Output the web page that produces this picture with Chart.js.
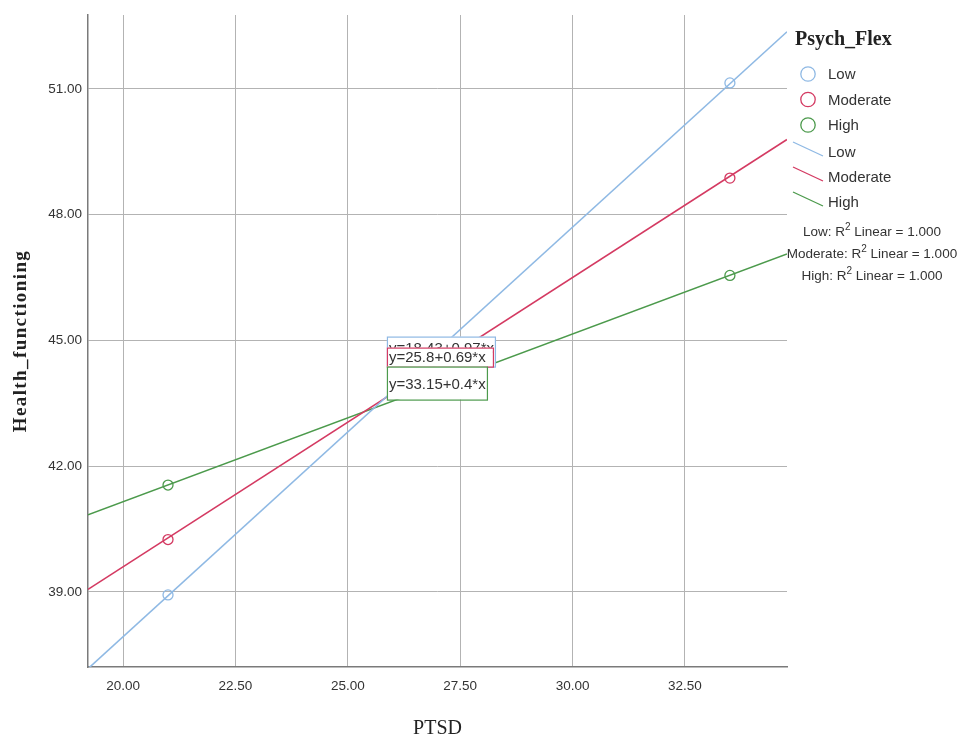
<!DOCTYPE html>
<html>
<head>
<meta charset="utf-8">
<script src="https://cdn.jsdelivr.net/npm/chart.js@4.4.1/dist/chart.umd.min.js"></script>
<style>
  html, body { margin: 0; padding: 0; background: #fff; }
  #wrap { width: 960px; height: 740px; }
</style>
</head>
<body>
<div id="wrap"><canvas id="chart"></canvas></div>
<script>
// Psych_Flex groups
const groups = ['Low', 'Moderate', 'High'];
const colors = ['#8fb9e4', '#d43a62', '#4c9a4c'];

// PTSD values of the plotted points
const ptsdPoints = [21.0, 33.5];

// Health_functioning at those points
const lowPoints = [38.93, 51.14];
const moderatePoints = [40.25, 48.87];
const highPoints = [41.55, 46.55];

// fit lines, read at the left and right edge of the plot
const lineX = [19.22, 34.77];
const lowLine = [37.17, 52.36];
const moderateLine = [39.06, 49.79];
const highLine = [40.84, 47.06];

const equations = ['y=18.43+0.97*x', 'y=25.8+0.69*x', 'y=33.15+0.4*x'];
const r2Names = ['Low', 'Moderate', 'High'];

const xTicks = [20, 22.5, 25, 27.5, 30, 32.5];
const yTicks = [39, 42, 45, 48, 51];

const sans = '"Liberation Sans", Arial, sans-serif';
const serif = '"Liberation Serif", "Times New Roman", serif';

const pointSets = [lowPoints, moderatePoints, highPoints];
const lineSets = [lowLine, moderateLine, highLine];

const datasets = [];
lineSets.forEach((vals, i) => {
  datasets.push({
    label: groups[i] + ' fit',
    data: lineX.map((x, j) => ({ x: x, y: vals[j] })),
    showLine: true,
    borderColor: colors[i],
    borderWidth: 1.6,
    pointRadius: 0,
    order: 2
  });
});
pointSets.forEach((vals, i) => {
  datasets.push({
    label: groups[i],
    data: ptsdPoints.map((x, j) => ({ x: x, y: vals[j] })),
    showLine: false,
    borderColor: colors[i],
    backgroundColor: 'rgba(0,0,0,0)',
    borderWidth: 1.3,
    pointRadius: 5,
    order: 1
  });
});

// equation labels near where the lines cross
const eqLabels = {
  id: 'eqLabels',
  afterDatasetsDraw(chart) {
    const { ctx, scales } = chart;
    const left = scales.x.getPixelForValue(25.87);
    const top = scales.y.getPixelForValue(45.09);
    const boxes = [
      { dy: 0, h: 30, w: 108, ty: 12 },
      { dy: 11, h: 19, w: 106, ty: 10 },
      { dy: 30, h: 33, w: 100, ty: 18 }
    ];
    ctx.save();
    ctx.font = '15px ' + sans;
    ctx.textBaseline = 'middle';
    boxes.forEach((b, i) => {
      const t = top + b.dy;
      ctx.fillStyle = '#fff';
      ctx.fillRect(left, t, b.w, b.h);
      ctx.strokeStyle = colors[i];
      ctx.lineWidth = 1.2;
      ctx.strokeRect(left + 0.5, t + 0.5, b.w, b.h);
      ctx.fillStyle = '#333';
      ctx.fillText(equations[i], left + 2, t + b.ty);
    });
    ctx.restore();
  }
};

// axis titles and the right hand legend
const sideText = {
  id: 'sideText',
  afterDraw(chart) {
    const { ctx, chartArea } = chart;
    ctx.save();
    ctx.fillStyle = '#222';
    ctx.textAlign = 'center';
    ctx.textBaseline = 'middle';

    // y title
    ctx.save();
    ctx.translate(21, (chartArea.top + chartArea.bottom) / 2);
    ctx.rotate(-Math.PI / 2);
    ctx.font = 'bold 19px ' + serif;
    ctx.letterSpacing = '1.4px';
    ctx.fillText('Health_functioning', 0, 0);
    ctx.restore();

    // x title
    ctx.font = '20px ' + serif;
    ctx.fillText('PTSD', (chartArea.left + chartArea.right) / 2, 729);

    // legend
    const lx = chartArea.right + 8;
    ctx.textAlign = 'left';
    ctx.font = 'bold 20px ' + serif;
    ctx.fillText('Psych_Flex', lx, 40);

    ctx.font = '15px ' + sans;
    groups.forEach((g, i) => {
      const y = 74 + i * 25.5;
      ctx.beginPath();
      ctx.arc(lx + 13, y, 7.2, 0, Math.PI * 2);
      ctx.strokeStyle = colors[i];
      ctx.lineWidth = 1.3;
      ctx.stroke();
      ctx.fillStyle = '#333';
      ctx.fillText(g, lx + 33, y + 1);
    });
    groups.forEach((g, i) => {
      const y = 152 + i * 25;
      ctx.beginPath();
      ctx.moveTo(lx - 2, y - 10);
      ctx.lineTo(lx + 28, y + 4);
      ctx.strokeStyle = colors[i];
      ctx.lineWidth = 1.3;
      ctx.stroke();
      ctx.fillStyle = '#333';
      ctx.fillText(g, lx + 33, y + 1);
    });

    // R squared lines
    const cx = lx + 77;
    r2Names.forEach((n, i) => {
      const y = 232 + i * 22;
      const a = n + ': R';
      const b = ' Linear = 1.000';
      ctx.font = '13.5px ' + sans;
      const wa = ctx.measureText(a).width;
      const wb = ctx.measureText(b).width;
      ctx.font = '10px ' + sans;
      const ws = ctx.measureText('2').width;
      const x0 = cx - (wa + ws + wb) / 2;
      ctx.fillStyle = '#333';
      ctx.font = '13.5px ' + sans;
      ctx.fillText(a, x0, y);
      ctx.font = '10px ' + sans;
      ctx.fillText('2', x0 + wa, y - 5);
      ctx.font = '13.5px ' + sans;
      ctx.fillText(b, x0 + wa + ws, y);
    });
    ctx.restore();
  }
};

new Chart(document.getElementById('chart'), {
  type: 'scatter',
  data: { datasets: datasets },
  options: {
    responsive: true,
    maintainAspectRatio: false,
    animation: false,
    layout: { padding: { top: 15, right: 173, left: 0, bottom: 0 } },
    plugins: {
      legend: { display: false },
      tooltip: { enabled: false }
    },
    scales: {
      x: {
        type: 'linear',
        min: 19.22,
        max: 34.77,
        afterFit: (s) => { s.height = 73; },
        afterBuildTicks: (s) => { s.ticks = xTicks.map(v => ({ value: v })); },
        grid: { color: '#b3b3b3', lineWidth: 1, drawTicks: false },
        border: { color: '#7a7a7a', width: 1.5 },
        ticks: {
          padding: 11,
          color: '#333',
          font: { family: sans, size: 13.5 },
          callback: (v) => v.toFixed(2)
        }
      },
      y: {
        type: 'linear',
        min: 37.21,
        max: 52.76,
        afterFit: (s) => { s.width = 88; },
        afterBuildTicks: (s) => { s.ticks = yTicks.map(v => ({ value: v })); },
        grid: { color: '#b3b3b3', lineWidth: 1, drawTicks: false },
        border: { color: '#7a7a7a', width: 1.5 },
        ticks: {
          padding: 6,
          color: '#333',
          font: { family: sans, size: 13.5 },
          callback: (v) => v.toFixed(2)
        }
      }
    }
  },
  plugins: [eqLabels, sideText]
});
</script>
</body>
</html>
